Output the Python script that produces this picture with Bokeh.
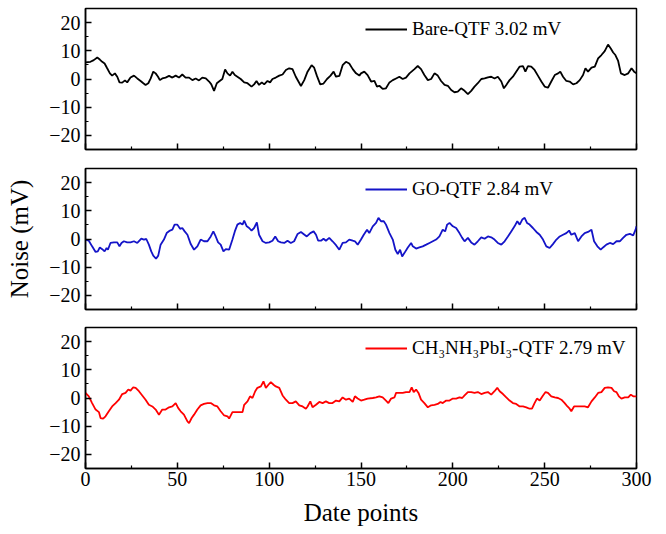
from bokeh.plotting import figure
from bokeh.layouts import column
from bokeh.models import Range1d, FixedTicker, Legend, LegendItem
from bokeh.embed import file_html
from bokeh.resources import INLINE

# ---------------- data ----------------
x_ticks = [0, 50, 100, 150, 200, 250, 300]
x_minor = [25, 75, 125, 175, 225, 275]
y_ticks = [-20, -10, 0, 10, 20]
y_minor = [-25, -15, -5, 5, 15, 25]

labels = ["Bare-QTF 3.02 mV", "GO-QTF 2.84 mV", "CH\u2083NH\u2083PbI\u2083-QTF 2.79 mV"]
x_title = "Date points"
y_title = "Noise (mV)"

bare_x = [0, 2.7, 4.5, 6.4, 7.8, 9.1, 10.4, 11.8, 13.3, 14.5,
          16.0, 17.3, 18.5, 20.0, 21.5, 22.7, 24.5, 26.4, 28.2, 30.0,
          31.5, 32.7, 34.2, 35.5, 36.9, 38.2, 39.5, 40.5, 41.8, 43.6,
          45.5, 47.3, 49.1, 50.9, 52.7, 54.5, 56.4, 58.2, 60.0, 61.8,
          63.6, 65.5, 67.3, 68.5, 70.0, 71.5, 72.7, 74.5, 76.0, 77.3,
          78.7, 80.0, 81.3, 82.7, 84.5, 86.4, 88.2, 90.4, 91.8, 93.1,
          94.5, 96.0, 97.3, 99.1, 100.5, 101.8, 103.6, 105.5, 107.3, 109.1,
          110.9, 112.7, 114.5, 117.3, 119.1, 120.9, 123.1, 124.5, 126.0, 127.8,
          129.6, 131.5, 133.3, 135.1, 136.4, 138.2, 140.0, 141.8, 143.6, 145.5,
          147.3, 149.1,
          150.0, 151.8, 153.6, 155.5, 157.3, 158.7, 160.0, 161.8, 163.6, 165.5,
          167.3, 169.1, 170.9, 172.7, 174.5, 176.4, 179.1, 180.9, 182.7, 184.5,
          186.4, 188.2, 190.0, 191.8, 193.6, 195.5, 197.3, 199.1, 200.9, 202.7,
          204.5, 206.4, 208.2, 210.0, 211.8, 213.6, 215.5, 217.3, 219.1, 220.9,
          222.7, 224.5, 226.4, 227.8, 229.1, 230.9, 232.7, 234.5, 236.4, 238.2,
          239.5, 240.9, 242.7, 244.5, 246.4, 248.2, 250.0, 251.8, 253.6, 255.5,
          257.3, 258.5, 260.0, 261.8, 263.6, 265.5, 267.3, 269.1, 270.9, 272.2,
          273.6, 275.5, 277.3, 279.1, 280.9, 282.7, 284.5, 286.0, 287.3, 288.5,
          290.0, 291.5, 293.6, 295.5, 297.3, 298.7, 300.0]
bare_y = [5.9, 6.1, 6.7, 7.6, 6.9, 6.1, 5.5, 3.8, 2.0, 1.2,
          2.0, 0.8, -1.2, -1.3, -0.5, -1.2, 0.5, 1.2, 0.2, -0.7,
          -1.5, -2.1, -1.5, 0.2, 2.6, 2.0, 0.8, -0.4, 0.2, 0.5,
          1.1, 0.5, 1.2, 0.5, 1.6, 0.5, 0.5, -0.4, 0.2, -0.5,
          0.5, 0.2, -0.9, -1.9, -4.2, -1.5, -0.9, 0.0, 3.4, 2.0,
          1.2, 2.6, 1.4, 0.8, 0.0, -1.2, -1.5, -2.7, -1.9, -0.7,
          -2.1, -1.2, -1.9, -0.7, -1.2, 0.0, 0.5, 1.2, 1.6, 3.2,
          3.8, 3.5, 0.8, -2.5, -0.4, 2.6, 4.9, 4.0, 1.1, -1.9,
          -1.6, 0.0, 1.1, 2.6, 0.8, 1.1, 4.9, 6.1, 5.5, 3.5,
          2.0, 1.2,
          2.0, 2.6, 1.4, -0.9, -0.7, -2.7, -2.4, -3.5, -3.3, -1.2,
          -0.4, 0.2, 0.8, 0.0, 0.5, 2.0, 3.5, 4.6, 3.5, 1.4,
          -0.4, 0.0, 2.0, 1.2, -0.7, -2.1, -2.4, -3.9, -4.7, -4.5,
          -3.3, -4.2, -5.4, -4.2, -2.7, -1.5, 0.0, 0.2, 0.6, 0.8,
          0.2, 0.8, -0.9, -3.3, -2.1, -0.4, 0.8, 2.6, 4.4, 4.6,
          2.6, 4.6, 4.4, 3.2, 1.1, -0.9, -2.7, -3.1, -0.9, 1.4,
          2.0, 2.6, 0.8, -0.7, -0.9, -1.9, -1.5, -0.4, 1.4, 3.8,
          2.6, 4.0, 4.4, 7.3, 8.5, 9.9, 12.2, 10.8, 9.4, 8.5,
          6.4, 2.0, 1.4, 2.0, 3.8, 2.6, 2.0]

go_x = [0, 1.8, 3.6, 5.5, 6.7, 7.8, 9.1, 10.4, 11.5, 12.2,
        13.6, 15.5, 17.3, 18.5, 19.6, 20.9, 22.7, 24.5, 26.4, 28.2,
        30.4, 31.8, 33.1, 34.5, 35.8, 36.9, 38.4, 39.6, 40.9, 42.7,
        44.2, 46.0, 47.3, 48.5, 50.0, 51.5, 52.7, 54.0, 55.5, 57.3,
        59.1, 60.9, 62.7, 64.5, 66.4, 68.2, 69.6, 70.9, 72.2, 73.6,
        75.1, 76.4, 78.2, 80.0, 81.3, 82.7, 84.2, 85.5, 86.4, 87.8,
        89.1, 90.4, 91.8, 93.3, 94.5, 96.4, 98.2, 100.0, 101.8, 103.3,
        104.9, 106.4, 108.2, 110.0, 111.8, 113.6, 115.5, 117.3, 118.7, 120.5,
        122.4, 124.2, 125.5, 126.7, 128.2, 129.6, 130.9, 132.7, 134.5, 136.4,
        138.2, 140.0, 141.8, 143.6, 145.5, 146.7, 148.2,
        150.0, 151.5, 153.3, 154.5, 156.4, 158.2, 159.5, 160.9, 162.4, 163.6,
        165.5, 167.3, 168.7, 170.0, 171.3, 172.4, 173.6, 175.5, 177.3, 178.2,
        180.0, 181.8, 183.6, 185.5, 187.3, 189.1, 190.9, 192.7, 194.5, 195.8,
        196.9, 198.2, 200.0, 201.8, 203.6, 205.1, 206.4, 208.2, 210.0, 211.8,
        213.6, 215.5, 217.3, 219.1, 220.9, 222.7, 224.5, 226.4, 228.2, 230.0,
        231.8, 233.6, 235.1, 236.4, 237.8, 239.1, 240.4, 241.8, 243.6, 245.5,
        247.3, 249.1, 250.9, 252.7, 254.5, 256.4, 258.2, 260.0, 261.8, 263.3,
        264.5, 266.4, 268.2, 270.0, 271.8, 273.6, 275.5, 276.9, 278.7, 280.5,
        281.8, 283.6, 285.5, 287.3, 289.1, 290.9, 292.7, 294.5, 296.4, 298.2,
        299.5, 300.0]
go_y = [-0.2, -0.6, -2.6, -4.6, -4.4, -3.0, -3.6, -4.4, -3.2, -3.8,
        -1.4, -1.2, -1.2, -2.6, -1.4, -0.8, -1.2, -1.2, -0.8, -1.4,
        0.1, -0.2, 0.0, -2.0, -4.4, -5.9, -7.0, -5.9, -2.0, -0.2,
        2.1, 3.0, 3.3, 5.1, 5.1, 3.6, 3.9, 2.7, 1.5, -1.8,
        -3.8, -2.6, -0.2, -0.8, -0.8, 0.9, 2.7, 0.9, -1.2, -2.0,
        -4.4, -3.6, -3.8, -0.2, 2.7, 5.1, 5.7, 5.1, 6.5, 4.5,
        3.9, 3.0, 3.9, 5.9, 1.5, -0.8, -1.4, -1.2, -0.6, 0.9,
        -0.8, -1.2, -1.4, -0.6, -1.4, -0.8, 1.8, 2.5, 1.8, 0.9,
        2.1, 2.7, 1.5, -0.6, -0.6, 0.1, -0.6, 0.4, -0.8, -2.2,
        -3.8, -1.4, -1.2, -0.2, -0.6, -0.8, -2.0,
        -0.2, 1.5, 3.3, 2.1, 4.5, 5.7, 7.5, 6.3, 6.3, 5.1,
        2.1, -0.2, -3.8, -5.3, -3.8, -6.2, -5.0, -3.0, -1.4, -2.6,
        -3.4, -3.0, -2.6, -2.0, -1.4, -0.8, -0.2, 0.9, 3.3, 2.7,
        5.1, 5.7, 4.5, 3.9, 2.1, 0.4, -0.8, 0.4, -1.2, -2.0,
        -0.8, 0.6, 0.1, 0.9, 0.6, -0.2, -1.4, -2.0, -0.8, 0.9,
        2.7, 4.5, 6.3, 5.1, 6.9, 7.5, 5.7, 5.1, 3.9, 2.5,
        1.5, -0.2, -2.6, -3.2, -1.8, -0.2, 0.9, 1.5, 2.1, 3.0,
        1.5, 2.1, -0.8, 0.9, 2.1, 2.5, 3.3, -0.8, -2.6, -3.8,
        -3.0, -2.0, -1.4, -1.8, -0.8, -0.8, 0.4, 1.5, 1.8, 1.3,
        3.3, 4.5]

mapi_x = [0, 1.8, 3.6, 5.5, 7.3, 8.2, 9.6, 10.9, 12.7, 14.5,
          16.4, 18.2, 20.0, 21.8, 23.3, 24.5, 26.0, 27.3, 29.1, 30.9,
          32.7, 34.5, 36.4, 38.2, 40.0, 41.8, 43.6, 45.5, 47.3, 49.1,
          50.5, 51.8, 53.6, 55.5, 56.4, 57.8, 59.1, 60.9, 62.7, 64.5,
          66.4, 68.2, 70.0, 71.8, 73.6, 75.5, 77.3, 78.2, 80.0, 81.8,
          83.6, 85.5, 86.4, 88.2, 89.6, 90.9, 92.4, 93.6, 95.5, 96.9,
          98.2, 99.6, 100.9, 102.4, 103.6, 105.5, 107.3, 109.1, 110.9, 112.7,
          114.5, 116.4, 118.2, 120.0, 120.9, 122.4, 123.6, 125.5, 127.3, 129.1,
          130.9, 132.7, 134.5, 136.4, 138.2, 140.0, 141.8, 143.6, 145.5, 146.7,
          148.2,
          150.0, 151.8, 153.6, 156.4, 158.2, 160.0, 161.8, 163.6, 164.9, 166.4,
          168.2, 169.1, 170.9, 172.7, 174.5, 176.4, 177.6, 178.7, 180.0, 181.3,
          182.7, 184.5, 186.4, 188.2, 190.0, 191.8, 193.3, 194.5, 196.4, 198.2,
          200.0, 201.8, 203.6, 205.1, 206.4, 208.2, 210.0, 211.8, 213.6, 215.5,
          217.3, 219.1, 220.9, 222.7, 224.2, 225.5, 227.3, 229.1, 230.9, 232.7,
          234.5, 236.4, 238.2, 240.0, 241.8, 243.1, 244.5, 245.8, 247.3, 249.1,
          250.5, 251.8, 253.6, 255.5, 257.3, 259.1, 260.9, 262.4, 263.6, 264.5,
          266.0, 267.8, 270.0, 271.8, 273.6, 275.5, 277.3, 279.1, 280.9, 282.7,
          284.5, 286.4, 287.8, 289.1, 290.4, 291.8, 293.6, 295.5, 296.9, 298.2,
          300.0]
mapi_y = [1.8, 0.6, -1.8, -4.1, -5.0, -7.1, -7.3, -6.5, -4.7, -3.0,
          -1.8, -0.6, 1.4, 1.8, 3.0, 2.6, 3.8, 3.6, 2.4, 0.9,
          -0.6, -2.4, -3.0, -4.1, -5.9, -4.1, -4.1, -3.3, -3.0, -1.8,
          -3.6, -4.7, -5.9, -8.3, -8.9, -7.1, -5.9, -4.1, -2.6, -2.1,
          -1.8, -1.8, -2.6, -3.0, -4.7, -6.2, -6.5, -7.3, -5.0, -5.0,
          -5.0, -5.0, -2.4, -1.2, 0.6, 0.0, 2.4, 3.6, 4.1, 5.9,
          3.6, 4.7, 5.6, 4.7, 4.1, 3.6, 0.9, -0.6, -1.8, -1.8,
          -1.2, -2.6, -3.0, -3.8, -3.0, -1.2, -3.3, -2.4, -1.4, -1.8,
          -1.2, -1.8, -1.8, -0.9, -1.2, 0.2, -0.6, -0.2, -1.4, 0.6,
          -0.2,
          -0.9, -0.6, -0.2, 0.0, 0.2, 0.6, 0.2, -0.9, -1.8, -0.2,
          0.2, 1.8, 1.8, 1.8, 2.1, 2.1, 3.8, 2.1, 3.0, 1.8,
          -0.6, -1.8, -3.3, -2.6, -2.4, -2.1, -1.4, -1.8, -0.9, -0.9,
          -0.2, -0.2, 0.2, 0.0, 0.9, 2.1, 2.1, 1.8, 2.1, 1.4,
          1.8, 2.1, 1.2, 2.4, 3.6, 2.4, 1.4, 0.2, -0.9, -1.8,
          -2.1, -3.0, -3.0, -3.3, -3.8, -3.8, -1.8, -0.2, -0.9, 0.9,
          2.1, 1.8, 0.6, 0.2, 0.0, -0.6, -1.8, -3.0, -3.8, -4.7,
          -3.0, -3.0, -3.0, -3.0, -3.3, -1.2, 0.2, 1.8, 2.1, 3.6,
          3.8, 3.6, 2.4, 2.1, 0.6, -0.2, 0.2, 0.2, 1.2, 0.6,
          0.6]

# ---------------- styling ----------------
FONT = "Liberation Serif"
COLORS = ["black", "#1414C8", "#FF0000"]

xr = Range1d(0, 300)


def panel(xs, ys, color, label, top, bottom, last, ylabel=None):
    n = min(len(xs), len(ys))
    p = figure(frame_width=551, frame_height=141, x_range=xr, y_range=Range1d(-25, 25),
               output_backend="svg", toolbar_location=None,
               min_border_left=85, min_border_right=30,
               min_border_top=top, min_border_bottom=bottom)
    p.grid.visible = False
    p.outline_line_color = "black"
    p.outline_line_width = 1.5
    p.outline_line_alpha = 1.0
    r = p.line(xs[:n], ys[:n], line_color=color, line_width=1.8)
    for ax in (p.xaxis[0], p.yaxis[0]):
        ax.axis_line_width = 1.5
        ax.axis_line_color = "black"
        ax.major_tick_in = 6
        ax.major_tick_out = 0
        ax.minor_tick_in = 3
        ax.minor_tick_out = 0
        ax.major_tick_line_width = 1.5
        ax.minor_tick_line_width = 1.2
        ax.major_tick_line_color = "black"
        ax.minor_tick_line_color = "black"
        ax.major_label_text_font = FONT
        ax.major_label_text_font_size = "20px"
        ax.major_label_text_color = "black"
        ax.axis_label_text_font = FONT
        ax.axis_label_text_font_size = "25px"
        ax.axis_label_text_font_style = "normal"
        ax.axis_label_text_color = "black"
    p.xaxis.ticker = FixedTicker(ticks=x_ticks, minor_ticks=x_minor)
    p.yaxis.ticker = FixedTicker(ticks=y_ticks, minor_ticks=y_minor)
    p.yaxis.major_label_standoff = 5
    if last:
        p.xaxis.axis_label = x_title
        p.xaxis.major_label_standoff = 3
        p.xaxis.axis_label_standoff = 10
    else:
        p.xaxis.major_label_overrides = {t: "" for t in x_ticks}
        p.xaxis.major_label_standoff = 0
    if ylabel:
        p.yaxis.axis_label = ylabel
        p.yaxis.axis_label_standoff = 13
    leg = Legend(items=[LegendItem(label=label, renderers=[r])], location=(280, 109),
                 padding=0, margin=0, spacing=0, glyph_width=42, glyph_height=20,
                 label_height=20, label_standoff=5, border_line_alpha=0,
                 background_fill_alpha=0, label_text_font=FONT,
                 label_text_font_size="19px", label_text_color="black")
    p.add_layout(leg)
    return p


p1 = panel(bare_x, bare_y, COLORS[0], labels[0], 8, 9, False)
p2 = panel(go_x, go_y, COLORS[1], labels[1], 10, 9, False, y_title)
p3 = panel(mapi_x, mapi_y, COLORS[2], labels[2], 9, 0, True)

layout = column(p1, p2, p3, spacing=0)

open("out.html", "w").write(file_html(layout, INLINE))
